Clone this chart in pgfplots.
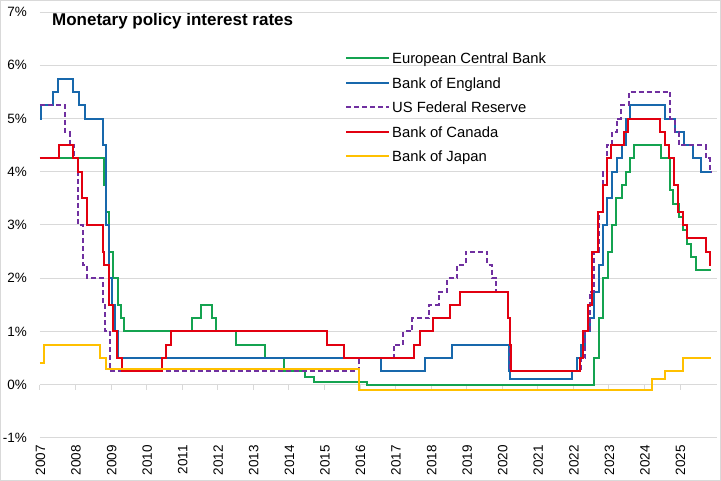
\documentclass[border=0pt]{standalone}
\usepackage{fontspec}
\setmainfont{Liberation Sans}
\usepackage{pgfplots}
\pgfplotsset{compat=1.18}

\definecolor{ecb}{RGB}{20,163,80}
\definecolor{boe}{RGB}{24,104,172}
\definecolor{fed}{RGB}{112,48,160}
\definecolor{boc}{RGB}{226,0,16}
\definecolor{boj}{RGB}{255,192,0}
\definecolor{gridgray}{RGB}{217,217,217}

\begin{document}
\begin{tikzpicture}
\useasboundingbox (0,0) rectangle (721pt,481pt);
\draw[gridgray, line width=1pt] (0.5pt,0.5pt) rectangle (720.5pt,480.5pt);
\node[anchor=base west, inner sep=0pt, font=\fontsize{17}{20}\selectfont\bfseries]
  at (52pt,455pt) {Monetary policy interest rates};
\begin{axis}[
  at={(40pt,43pt)}, anchor=south west,
  scale only axis, width=677pt, height=426pt,
  xmin=2007, xmax=2026.04, ymin=-1, ymax=7,
  axis line style={draw=none},
  tick style={draw=none},
  ytick={-1,0,...,7},
  yticklabels={-1\%,0\%,1\%,2\%,3\%,4\%,5\%,6\%,7\%},
  xtick={2007,2008,...,2025},
  xticklabels={2007,2008,2009,2010,2011,2012,2013,2014,2015,2016,2017,2018,2019,2020,2021,2022,2023,2024,2025},
  ymajorgrids, grid style={line width=1pt, gridgray},
  tick label style={font=\fontsize{13.5}{15}\selectfont},
  yticklabel style={anchor=east, inner sep=0pt, xshift=-13pt},
  xticklabel style={rotate=90, anchor=east, inner sep=0pt, xshift=-7pt, yshift=-0.5pt},
  legend cell align=left,
  legend image code/.code={\draw[#1] (0pt,5.3pt) -- (43pt,5.3pt);},
  legend style={at={(axis description cs:0.4505,0.908)}, anchor=north west,
    draw=none, fill=none, inner sep=0pt, row sep=0pt,
    font=\fontsize{14.8}{17}\selectfont,
    /tikz/every odd column/.append style={column sep=2pt},
    nodes={inner sep=0pt, text height=12.25pt, text depth=12.25pt}},
  clip=false,
]
\pgfplotsinvokeforeach{2007,2008,...,2025}{
  \draw[gridgray, line width=1pt] (axis cs:#1,0) -- ++(0pt,-5pt);
}

\addplot[const plot, ecb, line width=2pt] coordinates {
(2007.00,4.25) (2008.79,3.75) (2008.87,3.25) (2008.94,2.5) (2009.05,2.0)
(2009.19,1.5) (2009.27,1.25) (2009.36,1.0) (2011.27,1.25) (2011.52,1.5)
(2011.84,1.25) (2011.94,1.0) (2012.52,0.75) (2013.34,0.5) (2013.86,0.25)
(2014.44,0.15) (2014.70,0.05) (2016.19,0.0) (2022.57,0.5) (2022.71,1.25)
(2022.84,2.0) (2022.97,2.5) (2023.10,3.0) (2023.21,3.5) (2023.37,3.75)
(2023.47,4.0) (2023.59,4.25) (2023.71,4.5) (2024.46,4.25) (2024.71,3.65)
(2024.80,3.4) (2024.97,3.15) (2025.09,2.9) (2025.19,2.65) (2025.30,2.4)
(2025.45,2.15) (2025.87,2.15)};
\addlegendentry{European Central Bank}

\addplot[const plot, boe, line width=2pt] coordinates {
(2007.00,5.0) (2007.03,5.25) (2007.36,5.5) (2007.51,5.75) (2007.93,5.5)
(2008.11,5.25) (2008.27,5.0) (2008.77,4.5) (2008.85,3.0) (2008.93,2.0)
(2009.03,1.5) (2009.10,1.0) (2009.18,0.5) (2016.59,0.25) (2017.84,0.5)
(2018.59,0.75) (2020.19,0.25) (2020.22,0.1) (2021.96,0.25) (2022.09,0.5)
(2022.21,0.75) (2022.34,1.0) (2022.46,1.25) (2022.59,1.75) (2022.72,2.25)
(2022.84,3.0) (2022.96,3.5) (2023.09,4.0) (2023.22,4.25) (2023.37,4.5)
(2023.47,5.0) (2023.59,5.25) (2024.59,5.0) (2024.85,4.75) (2025.10,4.5)
(2025.36,4.25) (2025.59,4.0) (2025.87,4.0)};
\addlegendentry{Bank of England}

\addplot[const plot, fed, line width=2pt, dash pattern=on 5pt off 3pt] coordinates {
(2007.00,5.25) (2007.71,4.75) (2007.83,4.5) (2007.95,4.25) (2008.06,3.5)
(2008.08,3.0) (2008.21,2.25) (2008.33,2.0) (2008.77,1.5) (2008.83,1.0)
(2008.96,0.25) (2015.96,0.5) (2016.95,0.75) (2017.21,1.0) (2017.46,1.25)
(2017.95,1.5) (2018.21,1.75) (2018.45,2.0) (2018.74,2.25) (2018.97,2.5)
(2019.58,2.25) (2019.71,2.0) (2019.83,1.75) (2020.17,1.25) (2020.21,0.25)
(2022.21,0.5) (2022.34,1.0) (2022.46,1.75) (2022.57,2.5) (2022.72,3.25)
(2022.84,4.0) (2022.95,4.5) (2023.09,4.75) (2023.22,5.0) (2023.34,5.25)
(2023.57,5.5) (2024.72,5.0) (2024.85,4.75) (2024.97,4.5) (2025.72,4.25)
(2025.83,4.0) (2025.87,4.0)};
\addlegendentry{US Federal Reserve}

\addplot[const plot, boc, line width=2pt] coordinates {
(2007.00,4.25) (2007.53,4.5) (2007.92,4.25) (2008.06,4.0) (2008.17,3.5)
(2008.31,3.0) (2008.77,2.5) (2008.80,2.25) (2008.93,1.5) (2009.05,1.0)
(2009.17,0.5) (2009.30,0.25) (2010.42,0.5) (2010.55,0.75) (2010.69,1.0)
(2015.06,0.75) (2015.54,0.5) (2017.53,0.75) (2017.68,1.0) (2018.05,1.25)
(2018.53,1.5) (2018.81,1.75) (2020.17,1.25) (2020.21,0.75) (2020.24,0.25)
(2022.18,0.5) (2022.28,1.0) (2022.42,1.5) (2022.53,2.5) (2022.68,3.25)
(2022.82,3.75) (2022.94,4.25) (2023.07,4.5) (2023.42,4.75) (2023.53,5.0)
(2024.43,4.75) (2024.57,4.5) (2024.68,4.25) (2024.82,3.75) (2024.95,3.25)
(2025.08,3.0) (2025.20,2.75) (2025.72,2.5) (2025.83,2.25) (2025.87,2.25)};
\addlegendentry{Bank of Canada}

\addplot[const plot, boj, line width=2pt] coordinates {
(2007.00,0.4) (2007.10,0.75) (2008.70,0.5) (2008.86,0.3) (2015.98,-0.1)
(2024.21,0.1) (2024.58,0.25) (2025.07,0.5) (2025.87,0.5)};
\addlegendentry{Bank of Japan}
\end{axis}
\end{tikzpicture}
\end{document}
